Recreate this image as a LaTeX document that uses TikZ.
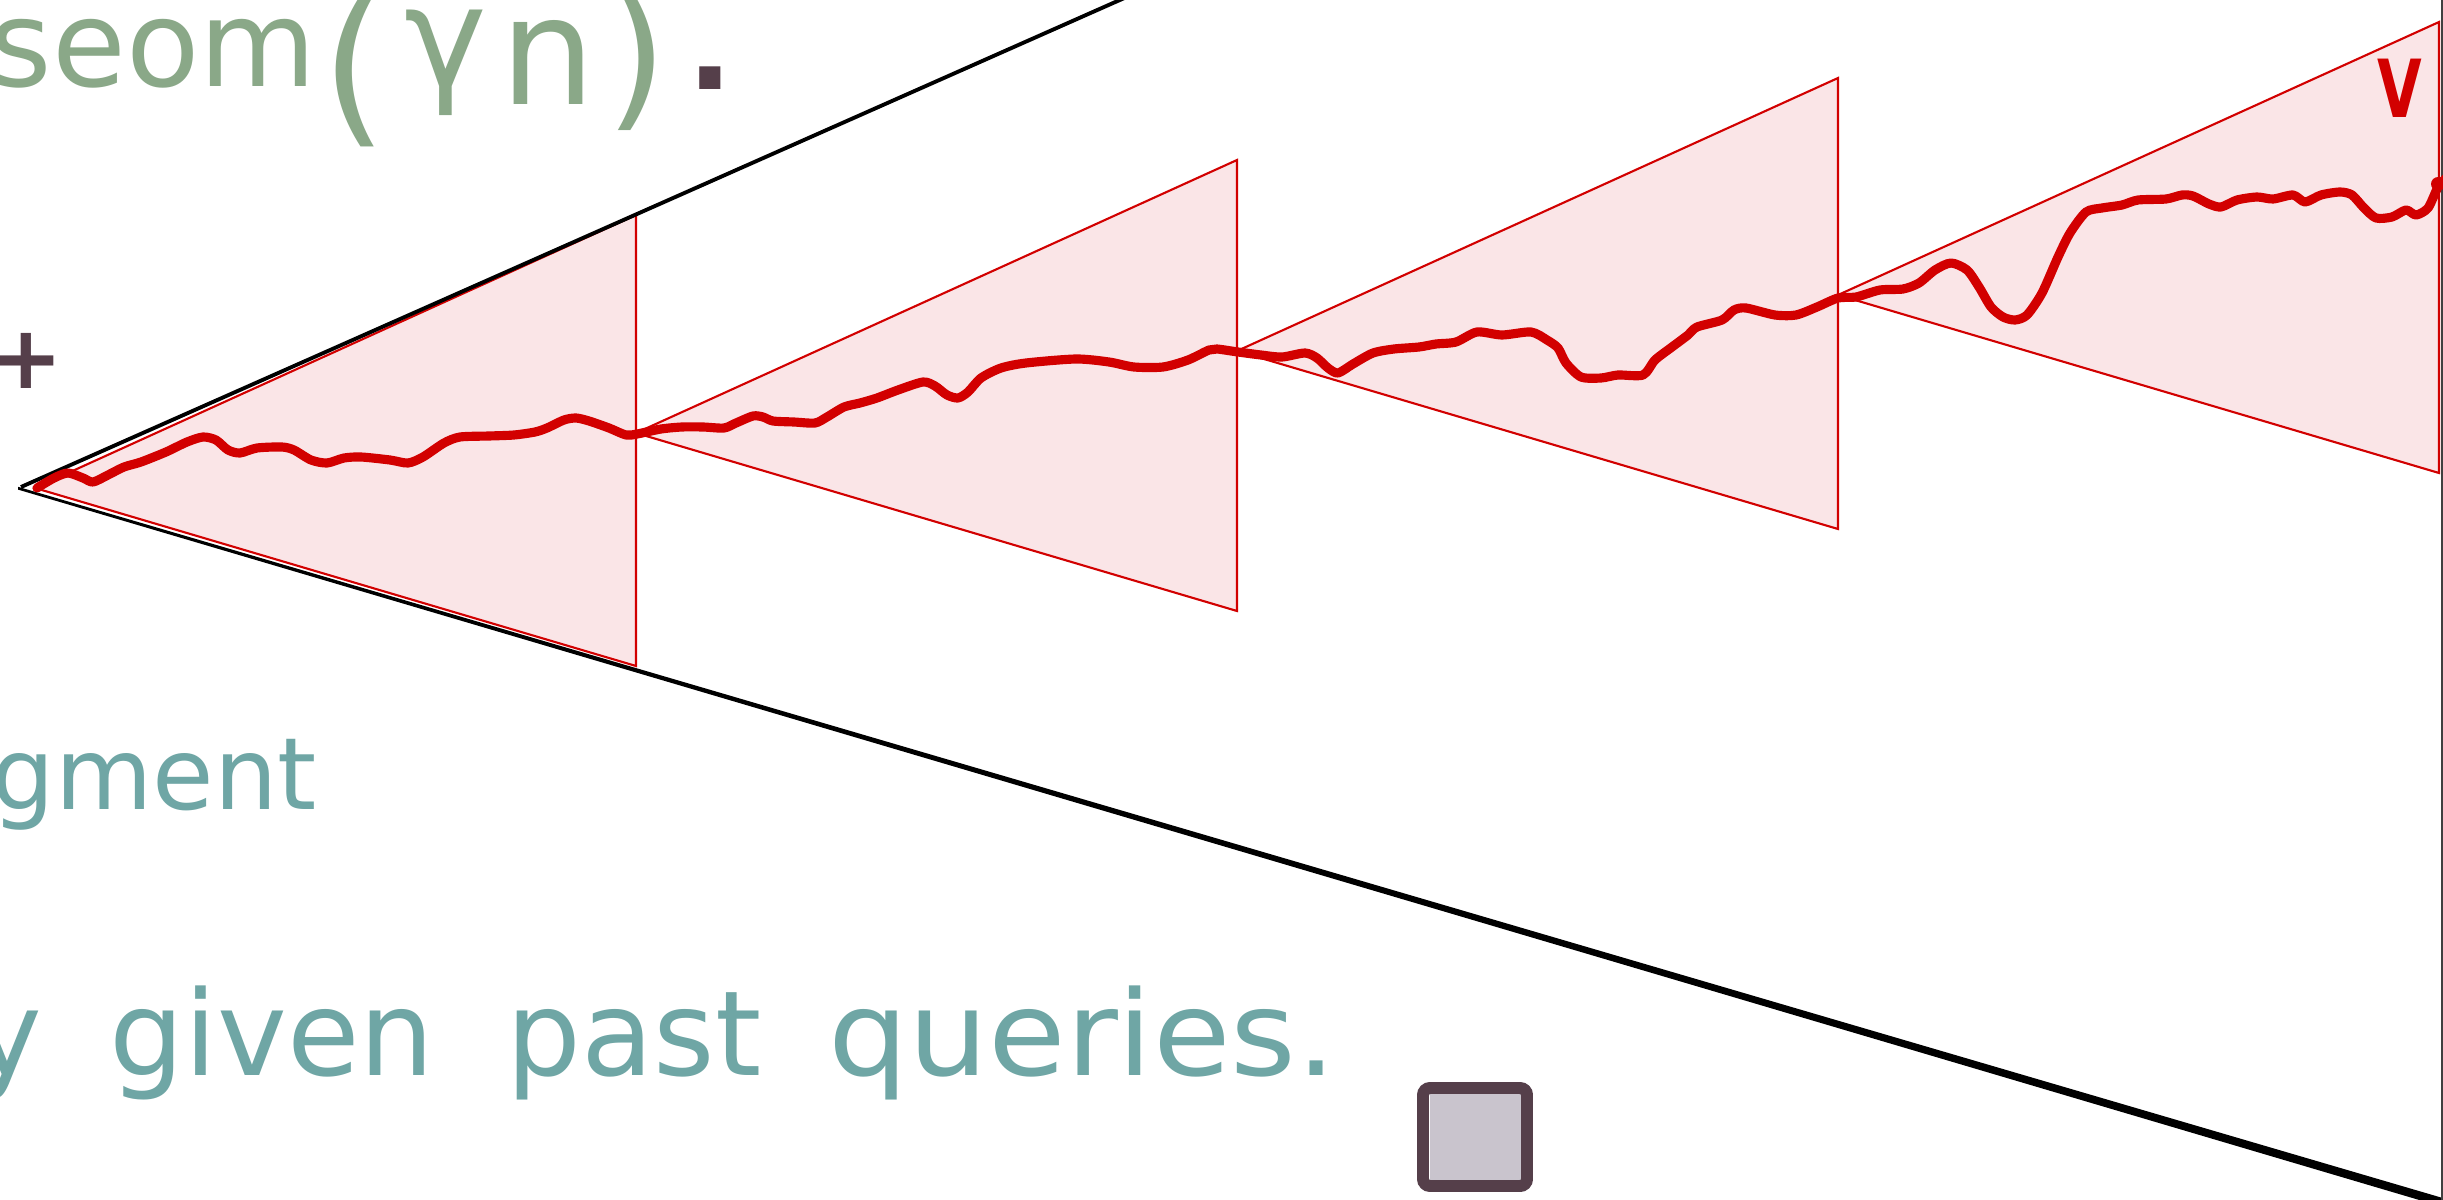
\documentclass[tikz,border=0pt]{standalone}
\usepackage{fontspec}
\setmainfont{DejaVu Sans}
\definecolor{hred}{RGB}{210,0,0}
\definecolor{hpink}{RGB}{250,229,231}
\definecolor{hgreen}{RGB}{138,168,136}
\definecolor{hteal}{RGB}{111,166,165}
\definecolor{hdark}{RGB}{85,63,74}
\definecolor{hbox}{RGB}{201,196,205}
\begin{document}
\begin{tikzpicture}[x=0.1mm,y=-0.1mm,
  txt/.style={inner sep=0pt,outer sep=0pt,anchor=base west},
  conebox/.style={fill=hpink,draw=hred,line width=0.6pt,line join=miter},
  blackline/.style={black,line width=1.1pt},
  walk/.style={hred,line width=2.6pt,line cap=round,line join=round}]
\useasboundingbox (0,0) rectangle (2443,1200);
\clip (0,0) rectangle (2443,1200);
\fill[white] (0,0) rectangle (2443,1200);

% apexes of the cones
\coordinate (A1) at (35,488);
\coordinate (A2) at (636,433);
\coordinate (A3) at (1237,351);
\coordinate (A4) at (1838,295);

\foreach \a in {A1,A2,A3,A4}{
  \filldraw[conebox] (\a) -- ++(601,-273) -- ++(0,451) -- cycle;
}

% black outer cone
\coordinate (O) at (21,487);
\draw[blackline] (O) -- (1165,-20);
\fill[black] (18,486.8) -- (2470,1206) -- (2470,1215) -- (18,489.6) -- cycle;

% right edge line
\draw[black!75,line width=0.35pt] (2442,0) -- (2442,1200);

% red walk
\draw[walk] plot[smooth,tension=0.45] coordinates {
(37,488) (54,478) (68,473) (83,478) (93,482) (108,475) (124,467) (141,462) (166,452) (187,442) (203,437) (216,440) (228,450) (240,453) (257,448) (282,447) (294,450) (311,460) (327,463) (344,458) (361,457) (390,460) (408,463) (423,457) (444,443) (460,437) (489,436) (514,435) (535,432) (547,428) (564,420) (576,418) (589,421) (609,428) (626,435) (637,434) (661,429) (682,427) (703,427) (724,428) (736,423) (753,416) (763,417) (773,421) (794,422) (815,423) (827,417) (844,407) (860,403) (877,398) (898,390) (923,382) (935,386) (947,395) (958,398) (968,392) (981,378) (1001,368) (1026,363) (1076,359) (1109,362) (1134,367) (1163,367) (1188,360) (1209,350) (1217,349) (1238,352) (1261,355) (1282,357) (1305,353) (1317,358) (1328,368) (1338,373) (1353,364) (1373,353) (1394,349) (1419,347) (1436,344) (1456,342) (1477,332) (1502,335) (1531,332) (1547,340) (1558,348) (1566,363) (1581,377) (1601,378) (1618,375) (1643,375) (1655,360) (1672,347) (1688,335) (1697,327) (1722,320) (1734,310) (1746,308) (1775,315) (1796,315) (1817,307) (1838,298) (1856,297) (1880,290) (1903,289) (1919,283) (1935,270) (1951,263) (1967,270) (1979,287) (1991,307) (2003,317) (2015,320) (2027,315) (2042,293) (2058,257) (2070,233) (2086,212) (2102,208) (2122,205) (2138,200) (2166,199) (2182,195) (2193,196) (2209,204) (2221,207) (2237,200) (2257,197) (2273,199) (2293,195) (2305,202) (2321,195) (2340,192) (2352,195) (2364,208) (2376,218) (2392,217) (2406,210) (2416,215) (2428,208) (2438,187) (2446,178)};
\fill[hred] (2438,184) circle (7);

% texts
\node[txt,text=hgreen,font=\fontsize{34.14pt}{40pt}\selectfont] (seom) at (-10,87) {seom};
\node[txt,text=hgreen,font=\fontsize{48.4pt}{56pt}\selectfont] (lpar) at (321,125) {(};
\node[txt,text=hgreen,font=\fontsize{39.8pt}{46pt}\selectfont] (gam) at (404,87) {γ};
\node[txt,text=hgreen,font=\fontsize{42.7pt}{50pt}\selectfont] (nn) at (500,105) {n};
\node[txt,text=hgreen,font=\fontsize{45.5pt}{52pt}\selectfont] (rpar) at (605,110) {)};
\node[txt,text=hdark,font=\bfseries\fontsize{34.14pt}{40pt}\selectfont] (dot) at (687,90) {.};

\node[txt,text=hdark,font=\bfseries\fontsize{25pt}{30pt}\selectfont] (plus) at (-10,388) {+};

\node[txt,text=hteal,font=\fontsize{28.45pt}{34pt}\selectfont] (gment) at (-8,809) {gment};
\node[txt,text=hteal,font=\fontsize{33.57pt}{40pt}\selectfont] (queries) at (-27,1075)
  {y\hspace{19pt}given\hspace{20.5pt}past\hspace{19pt}\scalebox{1.07}[1]{queries.}};

\node[txt,text=hred,font=\bfseries\fontsize{22.8pt}{27pt}\selectfont] (V) at (2377,118) {\scalebox{0.72}[1]{V}};

% end-of-proof box
\fill[hbox] (1430,1094) rectangle (1521,1181);
\draw[hdark,line width=3.4pt,rounded corners=2pt] (1423,1088) rectangle (1527,1186);
\end{tikzpicture}
\end{document}
